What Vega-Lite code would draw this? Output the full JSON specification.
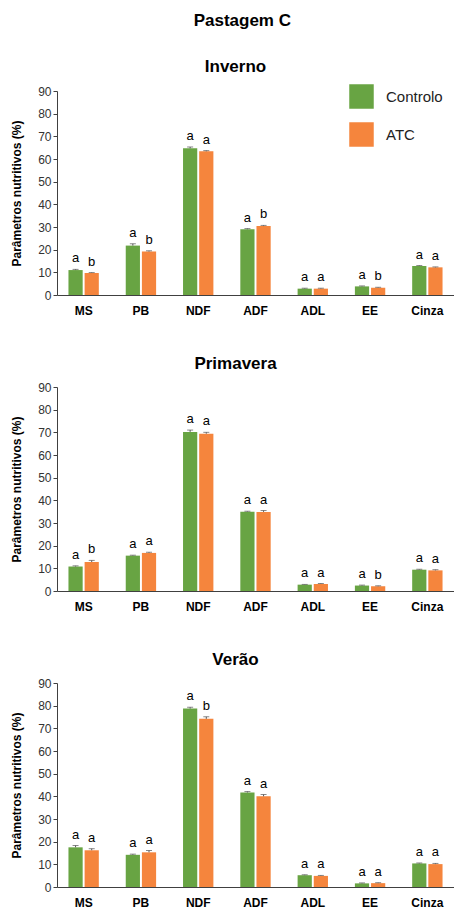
{
  "$schema": "https://vega.github.io/schema/vega-lite/v6.json",
  "padding": {"left": 10, "top": 12, "right": 0, "bottom": 0},
  "background": "white",
  "title": {"text": "Pastagem C", "fontSize": 17, "font": "Liberation Sans", "fontWeight": "bold", "anchor": "middle", "dx": 10, "offset": 28, "color": "black"},
  "config": {
    "font": "Liberation Sans",
    "view": {"stroke": null},
    "concat": {"spacing": 39},
    "axis": {"grid": false, "domainColor": "#404040", "tickColor": "#404040", "labelFont": "Liberation Sans", "titleFont": "Liberation Sans"},
    "axisY": {"tickCount": 10, "labelOverlap": false, "titleFontSize": 12, "titleFontWeight": "bold", "titleColor": "black", "titlePadding": 14, "labelFontSize": 12, "labelColor": "#333333", "tickSize": 4}
  },
  "data": {"values": [
    {"season": "Inverno", "param": "MS", "group": "Controlo", "value": 11.0, "err": 0.3, "letter": "a"},
    {"season": "Inverno", "param": "MS", "group": "ATC", "value": 9.7, "err": 0.2, "letter": "b"},
    {"season": "Inverno", "param": "PB", "group": "Controlo", "value": 21.8, "err": 0.8, "letter": "a"},
    {"season": "Inverno", "param": "PB", "group": "ATC", "value": 19.2, "err": 0.3, "letter": "b"},
    {"season": "Inverno", "param": "NDF", "group": "Controlo", "value": 64.7, "err": 0.6, "letter": "a"},
    {"season": "Inverno", "param": "NDF", "group": "ATC", "value": 63.4, "err": 0.3, "letter": "a"},
    {"season": "Inverno", "param": "ADF", "group": "Controlo", "value": 29.0, "err": 0.3, "letter": "a"},
    {"season": "Inverno", "param": "ADF", "group": "ATC", "value": 30.4, "err": 0.3, "letter": "b"},
    {"season": "Inverno", "param": "ADL", "group": "Controlo", "value": 2.8, "err": 0.2, "letter": "a"},
    {"season": "Inverno", "param": "ADL", "group": "ATC", "value": 2.8, "err": 0.2, "letter": "a"},
    {"season": "Inverno", "param": "EE", "group": "Controlo", "value": 3.8, "err": 0.2, "letter": "a"},
    {"season": "Inverno", "param": "EE", "group": "ATC", "value": 3.2, "err": 0.2, "letter": "b"},
    {"season": "Inverno", "param": "Cinza", "group": "Controlo", "value": 12.8, "err": 0.2, "letter": "a"},
    {"season": "Inverno", "param": "Cinza", "group": "ATC", "value": 12.2, "err": 0.2, "letter": "a"},
    {"season": "Primavera", "param": "MS", "group": "Controlo", "value": 10.8, "err": 0.3, "letter": "a"},
    {"season": "Primavera", "param": "MS", "group": "ATC", "value": 12.8, "err": 0.7, "letter": "b"},
    {"season": "Primavera", "param": "PB", "group": "Controlo", "value": 15.6, "err": 0.2, "letter": "a"},
    {"season": "Primavera", "param": "PB", "group": "ATC", "value": 16.8, "err": 0.3, "letter": "a"},
    {"season": "Primavera", "param": "NDF", "group": "Controlo", "value": 70.2, "err": 0.8, "letter": "a"},
    {"season": "Primavera", "param": "NDF", "group": "ATC", "value": 69.4, "err": 0.6, "letter": "a"},
    {"season": "Primavera", "param": "ADF", "group": "Controlo", "value": 35.0, "err": 0.2, "letter": "a"},
    {"season": "Primavera", "param": "ADF", "group": "ATC", "value": 34.9, "err": 0.6, "letter": "a"},
    {"season": "Primavera", "param": "ADL", "group": "Controlo", "value": 2.8, "err": 0.1, "letter": "a"},
    {"season": "Primavera", "param": "ADL", "group": "ATC", "value": 3.1, "err": 0.2, "letter": "a"},
    {"season": "Primavera", "param": "EE", "group": "Controlo", "value": 2.4, "err": 0.2, "letter": "a"},
    {"season": "Primavera", "param": "EE", "group": "ATC", "value": 2.1, "err": 0.2, "letter": "b"},
    {"season": "Primavera", "param": "Cinza", "group": "Controlo", "value": 9.4, "err": 0.2, "letter": "a"},
    {"season": "Primavera", "param": "Cinza", "group": "ATC", "value": 9.1, "err": 0.3, "letter": "a"},
    {"season": "Verão", "param": "MS", "group": "Controlo", "value": 17.5, "err": 0.8, "letter": "a"},
    {"season": "Verão", "param": "MS", "group": "ATC", "value": 16.2, "err": 0.7, "letter": "a"},
    {"season": "Verão", "param": "PB", "group": "Controlo", "value": 14.2, "err": 0.3, "letter": "a"},
    {"season": "Verão", "param": "PB", "group": "ATC", "value": 15.3, "err": 0.8, "letter": "a"},
    {"season": "Verão", "param": "NDF", "group": "Controlo", "value": 78.7, "err": 0.6, "letter": "a"},
    {"season": "Verão", "param": "NDF", "group": "ATC", "value": 74.2, "err": 0.9, "letter": "b"},
    {"season": "Verão", "param": "ADF", "group": "Controlo", "value": 41.7, "err": 0.4, "letter": "a"},
    {"season": "Verão", "param": "ADF", "group": "ATC", "value": 40.0, "err": 0.8, "letter": "a"},
    {"season": "Verão", "param": "ADL", "group": "Controlo", "value": 5.2, "err": 0.2, "letter": "a"},
    {"season": "Verão", "param": "ADL", "group": "ATC", "value": 4.9, "err": 0.2, "letter": "a"},
    {"season": "Verão", "param": "EE", "group": "Controlo", "value": 1.6, "err": 0.2, "letter": "a"},
    {"season": "Verão", "param": "EE", "group": "ATC", "value": 1.7, "err": 0.2, "letter": "a"},
    {"season": "Verão", "param": "Cinza", "group": "Controlo", "value": 10.4, "err": 0.2, "letter": "a"},
    {"season": "Verão", "param": "Cinza", "group": "ATC", "value": 10.1, "err": 0.3, "letter": "a"}
  ]},
  "transform": [{"calculate": "datum.value + datum.err", "as": "top"}],
  "resolve": {"legend": {"color": "independent"}},
  "vconcat": [
    {
      "title": {"text": "Inverno", "fontSize": 17, "fontWeight": "bold", "font": "Liberation Sans", "dx": -20, "offset": 8, "color": "black"},
      "width": 397, "height": 204,
      "transform": [{"filter": "datum.season === 'Inverno'"}],
      "encoding": {
        "x": {"field": "param", "type": "nominal", "sort": ["MS", "PB", "NDF", "ADF", "ADL", "EE", "Cinza"], "scale": {"paddingInner": 0.47}, "axis": {"title": null, "labelAngle": 0, "ticks": false, "labelFontWeight": "bold", "labelFontSize": 12, "labelColor": "black", "labelPadding": 10}},
        "xOffset": {"field": "group", "type": "nominal", "sort": ["Controlo", "ATC"], "scale": {"paddingInner": 0.12}}
      },
      "layer": [
        {"mark": {"type": "bar"}, "encoding": {
          "y": {"field": "value", "type": "quantitative", "scale": {"domain": [0, 90], "nice": false}, "title": "Parâmetros nutritivos (%)"},
          "color": {"field": "group", "type": "nominal", "scale": {"domain": ["Controlo", "ATC"], "range": ["#68a443", "#f5853d"]}, "legend": {"title": null, "orient": "none", "legendX": 292, "legendY": -7, "symbolType": "square", "symbolSize": 600, "symbolStrokeWidth": 0, "symbolOpacity": 1, "labelFontSize": 15, "labelColor": "#222222", "labelOffset": 12, "rowPadding": 13}}
        }},
        {"mark": {"type": "rule", "color": "#555555", "strokeWidth": 1}, "encoding": {"y": {"field": "value", "type": "quantitative", "title": "Parâmetros nutritivos (%)"}, "y2": {"field": "top"}}},
        {"mark": {"type": "tick", "color": "#555555", "thickness": 1, "size": 6}, "encoding": {"y": {"field": "top", "type": "quantitative", "title": "Parâmetros nutritivos (%)"}}},
        {"mark": {"type": "text", "fontSize": 13, "dy": -7, "baseline": "alphabetic", "color": "black"}, "encoding": {"y": {"field": "top", "type": "quantitative", "title": "Parâmetros nutritivos (%)"}, "text": {"field": "letter"}}}
      ]
    },
    {
      "title": {"text": "Primavera", "fontSize": 17, "fontWeight": "bold", "font": "Liberation Sans", "dx": -20, "offset": 8, "color": "black"},
      "width": 397, "height": 204,
      "transform": [{"filter": "datum.season === 'Primavera'"}],
      "encoding": {
        "x": {"field": "param", "type": "nominal", "sort": ["MS", "PB", "NDF", "ADF", "ADL", "EE", "Cinza"], "scale": {"paddingInner": 0.47}, "axis": {"title": null, "labelAngle": 0, "ticks": false, "labelFontWeight": "bold", "labelFontSize": 12, "labelColor": "black", "labelPadding": 10}},
        "xOffset": {"field": "group", "type": "nominal", "sort": ["Controlo", "ATC"], "scale": {"paddingInner": 0.12}}
      },
      "layer": [
        {"mark": {"type": "bar"}, "encoding": {
          "y": {"field": "value", "type": "quantitative", "scale": {"domain": [0, 90], "nice": false}, "title": "Parâmetros nutritivos (%)"},
          "color": {"field": "group", "type": "nominal", "scale": {"domain": ["Controlo", "ATC"], "range": ["#68a443", "#f5853d"]}, "legend": null}
        }},
        {"mark": {"type": "rule", "color": "#555555", "strokeWidth": 1}, "encoding": {"y": {"field": "value", "type": "quantitative", "title": "Parâmetros nutritivos (%)"}, "y2": {"field": "top"}}},
        {"mark": {"type": "tick", "color": "#555555", "thickness": 1, "size": 6}, "encoding": {"y": {"field": "top", "type": "quantitative", "title": "Parâmetros nutritivos (%)"}}},
        {"mark": {"type": "text", "fontSize": 13, "dy": -7, "baseline": "alphabetic", "color": "black"}, "encoding": {"y": {"field": "top", "type": "quantitative", "title": "Parâmetros nutritivos (%)"}, "text": {"field": "letter"}}}
      ]
    },
    {
      "title": {"text": "Verão", "fontSize": 17, "fontWeight": "bold", "font": "Liberation Sans", "dx": -20, "offset": 8, "color": "black"},
      "width": 397, "height": 204,
      "transform": [{"filter": "datum.season === 'Verão'"}],
      "encoding": {
        "x": {"field": "param", "type": "nominal", "sort": ["MS", "PB", "NDF", "ADF", "ADL", "EE", "Cinza"], "scale": {"paddingInner": 0.47}, "axis": {"title": null, "labelAngle": 0, "ticks": false, "labelFontWeight": "bold", "labelFontSize": 12, "labelColor": "black", "labelPadding": 10}},
        "xOffset": {"field": "group", "type": "nominal", "sort": ["Controlo", "ATC"], "scale": {"paddingInner": 0.12}}
      },
      "layer": [
        {"mark": {"type": "bar"}, "encoding": {
          "y": {"field": "value", "type": "quantitative", "scale": {"domain": [0, 90], "nice": false}, "title": "Parâmetros nutritivos (%)"},
          "color": {"field": "group", "type": "nominal", "scale": {"domain": ["Controlo", "ATC"], "range": ["#68a443", "#f5853d"]}, "legend": null}
        }},
        {"mark": {"type": "rule", "color": "#555555", "strokeWidth": 1}, "encoding": {"y": {"field": "value", "type": "quantitative", "title": "Parâmetros nutritivos (%)"}, "y2": {"field": "top"}}},
        {"mark": {"type": "tick", "color": "#555555", "thickness": 1, "size": 6}, "encoding": {"y": {"field": "top", "type": "quantitative", "title": "Parâmetros nutritivos (%)"}}},
        {"mark": {"type": "text", "fontSize": 13, "dy": -7, "baseline": "alphabetic", "color": "black"}, "encoding": {"y": {"field": "top", "type": "quantitative", "title": "Parâmetros nutritivos (%)"}, "text": {"field": "letter"}}}
      ]
    }
  ]
}
